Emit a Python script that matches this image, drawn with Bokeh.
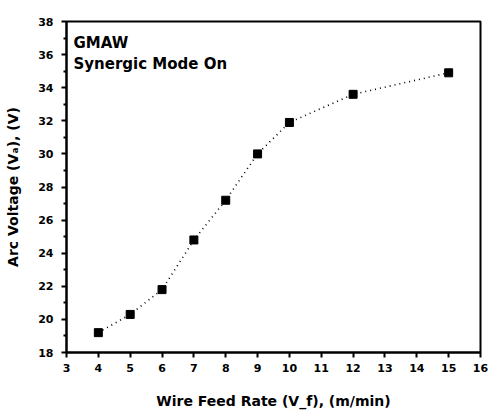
from bokeh.plotting import figure
from bokeh.models import FixedTicker, Label, Range1d
from bokeh.embed import file_html
from bokeh.resources import INLINE

wire_feed = [4, 5, 6, 7, 8, 9, 10, 12, 15]
arc_voltage = [19.2, 20.3, 21.8, 24.8, 27.2, 30.0, 31.9, 33.6, 34.9]
x_ticks = list(range(3, 17))
y_ticks = list(range(18, 39, 2))
y_minor = list(range(19, 38, 2))

FONT = "DejaVu Sans"

p = figure(width=488, height=416, output_backend="svg", toolbar_location=None,
           x_range=Range1d(3, 16), y_range=Range1d(18, 38),
           min_border_left=66, min_border_right=8, min_border_top=21, min_border_bottom=64)

p.xgrid.visible = False
p.ygrid.visible = False
p.outline_line_color = "black"
p.outline_line_width = 2
p.background_fill_color = "white"
p.border_fill_color = "white"

p.line(wire_feed, arc_voltage, line_color="black", line_width=1.6, line_dash="1 4")
p.scatter(wire_feed, arc_voltage, marker="square", size=8, color="black")

p.xaxis.ticker = FixedTicker(ticks=x_ticks)
p.yaxis.ticker = FixedTicker(ticks=y_ticks, minor_ticks=y_minor)

for ax in (p.xaxis[0], p.yaxis[0]):
    ax.axis_line_width = 2
    ax.axis_line_color = "black"
    ax.major_tick_line_width = 2
    ax.major_tick_line_color = "black"
    ax.major_tick_out = 5
    ax.major_tick_in = 0
    ax.minor_tick_line_width = 2
    ax.minor_tick_line_color = "black"
    ax.minor_tick_out = 3
    ax.minor_tick_in = 0
    ax.major_label_text_font = FONT
    ax.major_label_text_font_style = "bold"
    ax.major_label_text_font_size = "11px"
    ax.major_label_text_color = "black"
    ax.axis_label_text_font = FONT
    ax.axis_label_text_font_style = "bold"
    ax.axis_label_text_font_size = "14px"
    ax.axis_label_text_color = "black"

p.xaxis.axis_label = "Wire Feed Rate (V_f), (m/min)"
p.yaxis.axis_label = "Arc Voltage (V\u2090), (V)"
p.xaxis.axis_label_standoff = 18
p.yaxis.axis_label_standoff = 14
p.xaxis.major_label_standoff = 6
p.yaxis.major_label_standoff = 8

p.add_layout(Label(x=3.22, y=36.73, text="GMAW", text_font=FONT, text_font_style="bold",
                   text_font_size="15px", text_baseline="middle", text_color="black"))
p.add_layout(Label(x=3.22, y=35.46, text="Synergic Mode On", text_font=FONT, text_font_style="bold",
                   text_font_size="15px", text_baseline="middle", text_color="black"))

open("out.html", "w").write(file_html(p, INLINE))
